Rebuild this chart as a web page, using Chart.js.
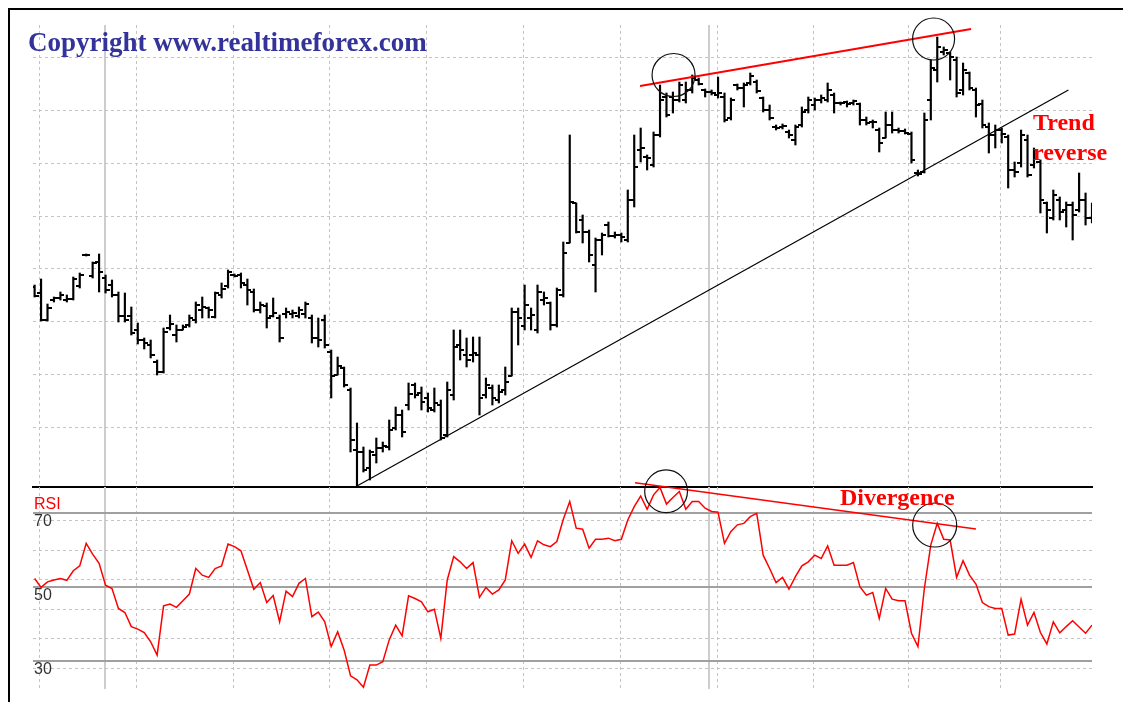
<!DOCTYPE html>
<html>
<head>
<meta charset="utf-8">
<title>RSI divergence</title>
<script src="https://cdn.jsdelivr.net/npm/chart.js@4.4.1/dist/chart.umd.min.js"></script>
<style>
  html, body { margin: 0; padding: 0; background: #fff; }
  #wrap { position: relative; width: 1123px; height: 702px; overflow: hidden; background: #fff; }
  #wrap canvas { position: absolute; left: 0; top: 0; }
  .frame { position: absolute; left: 8px; top: 8px; width: 1200px; height: 800px; border-left: 2px solid #000; border-top: 2px solid #000; }
  .txt { position: absolute; white-space: nowrap; line-height: 1; }
  #copy { left: 28px; top: 27px; font: bold 27px "Liberation Serif", serif; color: #33339a; }
  #trend { left: 1033px; top: 107px; font: bold 24px "Liberation Serif", serif; color: #ff0000; line-height: 30px; }
  #diverg { left: 840px; top: 484px; font: bold 24px "Liberation Serif", serif; color: #ff0000; }
  #rsiLabel { left: 34px; top: 495px; font: 16px "Liberation Sans", sans-serif; color: #ff0000; }
</style>
</head>
<body>
<div id="wrap">
  <canvas id="price" width="1123" height="702"></canvas>
  <canvas id="rsi" width="1123" height="702"></canvas>
  <div class="frame"></div>
  <div class="txt" id="copy">Copyright www.realtimeforex.com</div>
  <div class="txt" id="trend">Trend<br>reverse</div>
  <div class="txt" id="diverg">Divergence</div>
  <div class="txt" id="rsiLabel">RSI</div>
</div>
<script>
// daily bars, one per trading day (index 0..164)
var opens = [
  107.13, 107.07, 106.80, 107.00, 107.02, 107.00, 107.01, 107.14, 107.45, 107.24,
  107.38, 107.22, 107.15, 107.05, 106.84, 106.84, 106.70, 106.60, 106.55, 106.38,
  106.28, 106.72, 106.65, 106.70, 106.75, 106.80, 106.90, 106.92, 106.83, 107.05,
  107.14, 107.25, 107.25, 107.15, 107.08, 106.90, 106.94, 106.84, 106.82, 106.86,
  106.86, 106.84, 106.86, 106.82, 106.62, 106.80, 106.48, 106.25, 106.32, 106.10,
  105.50, 105.48, 105.32, 105.45, 105.52, 105.53, 105.72, 105.85, 105.95, 106.15,
  106.07, 106.02, 105.90, 105.95, 105.65, 106.05, 106.55, 106.45, 106.45, 106.45,
  106.05, 106.12, 106.00, 106.10, 106.24, 106.88, 106.74, 106.82, 106.70, 107.00,
  106.97, 106.75, 107.05, 107.57, 107.97, 107.80, 107.68, 107.35, 107.60, 107.75,
  107.64, 107.65, 107.60, 108.00, 108.50, 108.43, 108.35, 108.65, 109.03, 109.03,
  109.00, 109.00, 109.10, 109.20, 109.10, 109.08, 109.05, 109.03, 108.82, 109.15,
  109.12, 109.17, 109.18, 109.02, 108.90, 108.73, 108.73, 108.68, 108.60, 108.75,
  108.90, 108.95, 109.00, 109.00, 109.05, 108.97, 108.98, 108.97, 108.96, 108.80,
  108.78, 108.70, 108.62, 108.75, 108.70, 108.69, 108.66, 108.27, 108.28, 109.00,
  109.30, 109.48, 109.47, 109.40, 109.10, 109.27, 109.10, 108.96, 108.73, 108.65,
  108.70, 108.63, 108.30, 108.37, 108.60, 108.35, 108.38, 107.97, 107.82, 108.00,
  107.90, 107.95, 107.90, 108.00, 107.82
];
var highs = [
  107.15, 107.21, 106.96, 107.03, 107.08, 107.05, 107.23, 107.27, 107.46, 107.38,
  107.46, 107.25, 107.20, 107.08, 107.07, 106.93, 106.77, 106.62, 106.60, 106.40,
  106.72, 106.85, 106.75, 106.75, 106.85, 106.98, 107.03, 106.93, 107.08, 107.17,
  107.30, 107.26, 107.27, 107.21, 107.11, 106.98, 106.97, 107.02, 106.85, 106.92,
  106.90, 106.93, 106.98, 106.85, 106.82, 106.85, 106.50, 106.43, 106.33, 106.12,
  105.77, 105.53, 105.50, 105.62, 105.58, 105.80, 105.93, 105.90, 106.17, 106.17,
  106.13, 106.07, 106.12, 106.00, 106.18, 106.70, 106.70, 106.62, 106.63, 106.63,
  106.22, 106.15, 106.15, 106.33, 106.92, 106.92, 107.15, 106.92, 107.15, 107.08,
  106.98, 107.12, 107.58, 108.65, 107.97, 107.85, 107.70, 107.62, 107.67, 107.78,
  107.68, 107.67, 108.10, 108.65, 108.72, 108.45, 108.68, 109.15, 109.07, 109.08,
  109.18, 109.18, 109.25, 109.22, 109.11, 109.10, 109.23, 109.07, 109.02, 109.16,
  109.17, 109.27, 109.20, 109.03, 108.95, 108.75, 108.76, 108.70, 108.75, 108.93,
  109.03, 109.02, 109.05, 109.17, 109.07, 108.98, 108.99, 109.00, 108.97, 108.83,
  108.80, 108.72, 108.88, 108.88, 108.72, 108.71, 108.68, 108.30, 108.87, 109.40,
  109.63, 109.53, 109.48, 109.43, 109.37, 109.28, 109.12, 109.00, 108.77, 108.75,
  108.72, 108.65, 108.38, 108.70, 108.65, 108.52, 108.40, 107.98, 108.10, 108.03,
  107.98, 107.98, 108.27, 108.07, 107.97
];
var lows = [
  107.03, 106.79, 106.79, 106.98, 107.00, 106.98, 107.00, 107.12, 107.44, 107.22,
  107.08, 107.07, 107.03, 106.78, 106.78, 106.65, 106.56, 106.51, 106.42, 106.25,
  106.27, 106.70, 106.58, 106.70, 106.73, 106.77, 106.82, 106.82, 106.82, 107.02,
  107.12, 107.23, 107.12, 106.95, 106.88, 106.87, 106.72, 106.83, 106.58, 106.82,
  106.82, 106.82, 106.82, 106.57, 106.53, 106.52, 106.02, 106.25, 106.13, 105.48,
  105.13, 105.28, 105.20, 105.37, 105.48, 105.50, 105.70, 105.63, 105.90, 106.02,
  105.90, 105.88, 105.88, 105.60, 105.63, 106.00, 106.40, 106.33, 106.38, 105.85,
  106.02, 105.95, 105.97, 106.05, 106.24, 106.55, 106.70, 106.70, 106.67, 106.95,
  106.70, 106.73, 107.03, 107.57, 107.67, 107.57, 107.38, 107.08, 107.45, 107.63,
  107.62, 107.58, 107.58, 107.93, 108.38, 108.30, 108.33, 108.63, 108.83, 108.87,
  108.98, 108.97, 109.07, 109.15, 109.03, 109.05, 109.02, 108.78, 108.80, 109.10,
  108.93, 109.15, 109.07, 108.88, 108.80, 108.70, 108.71, 108.62, 108.55, 108.73,
  108.87, 108.90, 108.97, 108.98, 108.87, 108.95, 108.93, 108.95, 108.75, 108.75,
  108.72, 108.48, 108.62, 108.67, 108.67, 108.66, 108.37, 108.24, 108.27, 108.80,
  109.18, 109.45, 109.20, 109.03, 109.05, 109.10, 108.83, 108.72, 108.47, 108.52,
  108.57, 108.12, 108.23, 108.33, 108.23, 108.32, 107.87, 107.67, 107.80, 107.80,
  107.73, 107.60, 107.88, 107.75, 107.77
];
var closes = [
  107.04, 106.80, 106.92, 107.02, 107.05, 107.01, 107.21, 107.25, 107.45, 107.37,
  107.28, 107.10, 107.05, 106.84, 106.80, 106.67, 106.60, 106.57, 106.45, 106.28,
  106.68, 106.76, 106.70, 106.73, 106.82, 106.95, 106.93, 106.90, 107.07, 107.11,
  107.28, 107.24, 107.17, 107.10, 106.90, 106.95, 106.82, 106.87, 106.62, 106.88,
  106.87, 106.90, 106.96, 106.62, 106.60, 106.55, 106.24, 106.34, 106.15, 105.60,
  105.48, 105.30, 105.48, 105.52, 105.54, 105.70, 105.85, 105.68, 106.06, 106.05,
  105.98, 105.92, 105.97, 105.62, 106.10, 106.53, 106.50, 106.40, 106.47, 106.02,
  106.15, 106.02, 106.08, 106.18, 106.88, 106.82, 106.95, 106.85, 107.08, 107.02,
  106.75, 107.10, 107.47, 107.98, 107.68, 107.68, 107.45, 107.60, 107.65, 107.64,
  107.65, 107.63, 108.00, 108.33, 108.52, 108.42, 108.65, 109.00, 108.85, 109.00,
  109.15, 109.10, 109.22, 109.16, 109.08, 109.07, 109.07, 108.80, 109.00, 109.12,
  109.15, 109.24, 109.09, 108.90, 108.82, 108.72, 108.74, 108.65, 108.73, 108.88,
  109.00, 109.00, 109.02, 109.10, 108.97, 108.97, 108.96, 108.99, 108.80, 108.77,
  108.78, 108.57, 108.75, 108.70, 108.69, 108.67, 108.40, 108.26, 108.80, 109.32,
  109.53, 109.50, 109.43, 109.07, 109.30, 109.12, 108.95, 108.75, 108.65, 108.70,
  108.66, 108.30, 108.28, 108.65, 108.25, 108.50, 108.00, 107.90, 108.05, 107.88,
  107.95, 107.85, 108.00, 107.82, 107.90
];
var rsi = [
  52.3, 49.9, 51.4, 51.9, 52.3, 51.8, 54.4, 55.7, 61.8, 58.9,
  56.4, 50.5, 49.6, 44.2, 43.1, 39.3, 38.6, 37.7, 35.2, 31.6,
  44.9, 45.4, 44.5, 46.3, 48.1, 55.0, 53.2, 52.6, 55.0, 55.7,
  61.6, 60.9, 59.8, 54.6, 49.4, 51.2, 45.8, 47.7, 40.6, 48.9,
  47.4, 51.0, 52.3, 42.0, 43.2, 40.6, 33.9, 37.9, 33.0, 26.0,
  24.9, 22.9, 28.9, 28.9, 29.8, 35.7, 39.7, 36.8, 47.6, 46.9,
  46.0, 43.3, 44.0, 36.1, 51.9, 58.2, 56.8, 55.0, 56.6, 47.2,
  49.9, 48.1, 49.2, 51.9, 62.5, 59.1, 61.6, 58.0, 62.5, 61.4,
  60.9, 62.3, 68.3, 73.1, 65.9, 65.6, 60.5, 62.9, 62.9, 63.2,
  62.5, 62.9, 68.1, 71.7, 74.6, 71.0, 74.9, 76.9, 72.4, 74.2,
  75.8, 71.0, 73.1, 73.1, 71.3, 70.4, 70.2, 61.8, 65.0, 66.8,
  67.2, 69.0, 69.9, 58.6, 55.0, 51.2, 52.6, 49.4, 52.8, 55.7,
  56.8, 58.6, 57.7, 61.1, 55.9, 55.9, 55.9, 56.6, 50.1, 47.8,
  48.5, 41.5, 49.6, 46.7, 46.3, 46.3, 37.5, 33.9, 49.6, 61.4,
  67.2, 62.9, 62.7, 52.6, 57.1, 53.2, 50.8, 45.8, 44.7, 44.2,
  44.2, 37.0, 37.3, 46.7, 39.7, 43.1, 37.7, 34.6, 40.6, 37.6,
  39.3, 40.9, 39.2, 37.5, 39.7
];

// grid positions (bar index for verticals, price / rsi for horizontals)
var weekLines = [0.7, 15.85, 30.8, 45.8, 60.85, 75.9, 90.8, 105.85, 120.75, 135.6, 149.75];
var monthLines = [10.93, 104.65];
var priceLines = [105.72, 106.25, 106.78, 107.31, 107.83, 108.36, 108.89, 109.42];
var rsiLevels = [30, 50, 70];
var rsiLines = [28, 36, 44, 52, 60, 68];

// hand drawn marks: [bar index, value]
var trendLine = [[50, 105.14], [160.34, 109.10]];
var peakLine = [[93.9, 109.14], [145.24, 109.71]];
var peakCircles = [[99.1, 109.25], [139.43, 109.61]];
var rsiLine = [[93.13, 78.19], [146.0, 65.68]];
var rsiCircles = [[97.94, 75.87], [139.6, 66.76]];

var xMin = -0.25, xMax = 164;

function fixedTicks(values) {
  return function (scale) {
    scale.ticks = values.map(function (v) { return { value: v }; });
  };
}
function noSize(scale) {
  if (scale.isHorizontal()) scale.height = 0; else scale.width = 0;
}
function tickMark(side) {
  var c = document.createElement('canvas');
  c.width = 8; c.height = 2;
  var g = c.getContext('2d');
  g.fillStyle = '#000';
  g.fillRect(side === 'open' ? 0 : 4, 0, 4, 2);
  return c;
}
function points(values) {
  return values.map(function (v, i) { return { x: i, y: v }; });
}
function segment(chart, pts, color, width) {
  var ctx = chart.ctx, sx = chart.scales.x, sy = chart.scales.y;
  ctx.save();
  ctx.strokeStyle = color;
  ctx.lineWidth = width;
  ctx.beginPath();
  ctx.moveTo(sx.getPixelForValue(pts[0][0]), sy.getPixelForValue(pts[0][1]));
  ctx.lineTo(sx.getPixelForValue(pts[1][0]), sy.getPixelForValue(pts[1][1]));
  ctx.stroke();
  ctx.restore();
}
function ring(chart, pt, r) {
  var ctx = chart.ctx;
  ctx.save();
  ctx.strokeStyle = '#111';
  ctx.lineWidth = 1.2;
  ctx.beginPath();
  ctx.arc(chart.scales.x.getPixelForValue(pt[0]), chart.scales.y.getPixelForValue(pt[1]), r, 0, Math.PI * 2);
  ctx.stroke();
  ctx.restore();
}
// vertical grid: one scale for week lines (dashed), one for month lines (solid)
function weekAxis() {
  return {
    type: 'linear', position: 'bottom', min: xMin, max: xMax, offset: false,
    afterBuildTicks: fixedTicks(weekLines), afterFit: noSize,
    ticks: { display: false },
    grid: { color: '#c4c4c4', drawTicks: false, offset: false },
    border: { display: false, dash: [3, 3] }
  };
}
function monthAxis(withBorder) {
  return {
    type: 'linear', position: 'bottom', min: xMin, max: xMax, offset: false,
    afterBuildTicks: fixedTicks(monthLines), afterFit: noSize,
    ticks: { display: false },
    grid: { color: '#cdcdcd', lineWidth: 2, drawTicks: false, offset: false },
    border: { display: withBorder, color: '#000', width: 2 }
  };
}

// --- price panel
new Chart(document.getElementById('price'), {
  type: 'bar',
  data: {
    datasets: [
      {
        type: 'bar',
        data: highs.map(function (h, i) { return { x: i, y: [lows[i], h] }; }),
        backgroundColor: '#000',
        borderWidth: 0,
        barThickness: 1.5,
        grouped: false,
        xAxisID: 'x', yAxisID: 'y'
      },
      {
        type: 'scatter',
        data: points(opens),
        pointStyle: tickMark('open'),
        pointRadius: 3,
        xAxisID: 'x', yAxisID: 'y'
      },
      {
        type: 'scatter',
        data: points(closes),
        pointStyle: tickMark('close'),
        pointRadius: 3,
        xAxisID: 'x', yAxisID: 'y'
      }
    ]
  },
  options: {
    responsive: false,
    animation: false,
    events: [],
    layout: { padding: { left: 33, right: 31, top: 25, bottom: 215 } },
    plugins: { legend: { display: false }, tooltip: { enabled: false } },
    scales: {
      x: weekAxis(),
      xm: monthAxis(true),
      y: {
        type: 'linear', position: 'left', min: 105.13, max: 109.75,
        afterBuildTicks: fixedTicks(priceLines), afterFit: noSize,
        ticks: { display: false },
        grid: { color: '#c4c4c4', drawTicks: false },
        border: { display: false, dash: [3, 3] }
      }
    }
  },
  plugins: [{
    id: 'priceMarks',
    afterDatasetsDraw: function (chart) {
      segment(chart, trendLine, '#000', 1.2);
      segment(chart, peakLine, '#ff0000', 2);
      ring(chart, peakCircles[0], 21.5);
      ring(chart, peakCircles[1], 21);
    }
  }]
});

// --- RSI panel
new Chart(document.getElementById('rsi'), {
  type: 'line',
  data: {
    datasets: [{
      data: points(rsi),
      borderColor: '#ff0000',
      borderWidth: 1.5,
      pointRadius: 0,
      tension: 0,
      xAxisID: 'x', yAxisID: 'y'
    }]
  },
  options: {
    responsive: false,
    animation: false,
    events: [],
    layout: { padding: { left: 33, right: 31, top: 487, bottom: 13 } },
    plugins: { legend: { display: false }, tooltip: { enabled: false } },
    scales: {
      x: weekAxis(),
      xm: monthAxis(false),
      yg: {
        type: 'linear', position: 'left', min: 22.43, max: 77.03,
        afterBuildTicks: fixedTicks(rsiLines), afterFit: noSize,
        ticks: { display: false },
        grid: { color: '#c4c4c4', drawTicks: false },
        border: { display: false, dash: [3, 3] }
      },
      y: {
        type: 'linear', position: 'left', min: 22.43, max: 77.03,
        afterBuildTicks: fixedTicks(rsiLevels), afterFit: noSize,
        ticks: {
          mirror: true, padding: 1, labelOffset: 9, color: '#333',
          font: { family: 'Liberation Sans', size: 16 }
        },
        grid: { color: '#a0a0a0', lineWidth: 2, drawTicks: false },
        border: { display: false }
      }
    }
  },
  plugins: [{
    id: 'rsiMarks',
    afterDatasetsDraw: function (chart) {
      segment(chart, rsiLine, '#ff0000', 1.6);
      ring(chart, rsiCircles[0], 21.4);
      ring(chart, rsiCircles[1], 22);
    }
  }]
});
</script>
</body>
</html>
